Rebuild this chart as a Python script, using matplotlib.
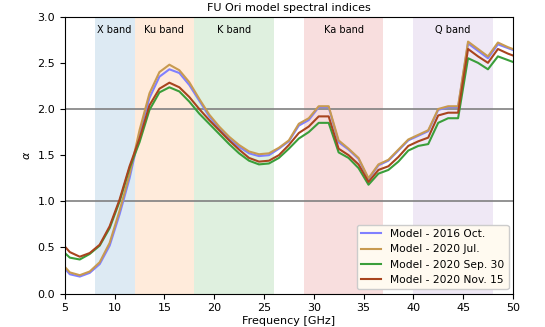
'''FU Ori model spectral indices vs frequency'''

import numpy as np
from matplotlib import pyplot as plt

freq = [5, 5.5, 6.5, 7.5, 8.5, 9.5, 10.5, 11.5, 12.5, 13.5, 14.5, 15.5,
        16.5, 17.5, 18.5, 19.5, 20.5, 21.5, 22.5, 23.5, 24.5, 25.5, 26.5,
        27.5, 28.5, 29.5, 30.5, 31.5, 32.5, 33.5, 34.5, 35.5, 36.5, 37.5,
        38.5, 39.5, 40.5, 41.5, 42.5, 43.5, 44.5, 45.5, 46.5, 47.5, 48.5,
        49.5, 50]

alpha_2016_oct = [0.27, 0.21, 0.185, 0.225, 0.32, 0.52, 0.86, 1.25, 1.73,
                  2.12, 2.35, 2.43, 2.39, 2.26, 2.09, 1.92, 1.79, 1.68, 1.59,
                  1.52, 1.49, 1.50, 1.57, 1.65, 1.82, 1.88, 2.02, 2.02, 1.64,
                  1.56, 1.46, 1.24, 1.39, 1.44, 1.55, 1.66, 1.71, 1.76, 1.99,
                  2.02, 2.02, 2.71, 2.63, 2.55, 2.70, 2.66, 2.64]

alpha_2020_jul = [0.29, 0.23, 0.20, 0.24, 0.34, 0.55, 0.90, 1.29, 1.77,
                  2.17, 2.40, 2.48, 2.42, 2.29, 2.11, 1.94, 1.81, 1.70, 1.61,
                  1.54, 1.51, 1.52, 1.58, 1.66, 1.84, 1.90, 2.03, 2.03, 1.66,
                  1.57, 1.47, 1.25, 1.40, 1.45, 1.56, 1.67, 1.72, 1.77, 2.00,
                  2.03, 2.03, 2.73, 2.65, 2.57, 2.72, 2.67, 2.65]

alpha_2020_sep30 = [0.44, 0.39, 0.37, 0.43, 0.52, 0.71, 1.00, 1.36, 1.64,
                    1.99, 2.18, 2.235, 2.19, 2.08, 1.95, 1.84, 1.73, 1.62,
                    1.52, 1.44, 1.40, 1.41, 1.47, 1.57, 1.68, 1.75, 1.85,
                    1.85, 1.53, 1.47, 1.36, 1.18, 1.30, 1.34, 1.43, 1.55,
                    1.60, 1.62, 1.85, 1.90, 1.90, 2.55, 2.50, 2.43, 2.57,
                    2.53, 2.51]

alpha_2020_nov15 = [0.51, 0.45, 0.40, 0.44, 0.53, 0.73, 1.02, 1.38, 1.68,
                    2.04, 2.22, 2.285, 2.235, 2.13, 2.00, 1.88, 1.77, 1.66,
                    1.56, 1.47, 1.43, 1.44, 1.50, 1.61, 1.74, 1.81, 1.92,
                    1.92, 1.57, 1.50, 1.40, 1.21, 1.34, 1.38, 1.48, 1.60,
                    1.65, 1.69, 1.93, 1.96, 1.96, 2.65, 2.57, 2.50, 2.65,
                    2.60, 2.58]

band_names = ["X band", "Ku band", "K band", "Ka band", "Q band"]
band_edges = [(8, 12), (12, 18), (18, 26), (29, 37), (40, 48)]
band_colors = ["tab:blue", "tab:orange", "tab:green", "tab:red", "tab:purple"]

fig = plt.figure(figsize=(5.45, 3.27), dpi=100)
ax = fig.add_axes([0.119, 0.102, 0.822, 0.847])

for name, (lo, hi), c in zip(band_names, band_edges, band_colors):
    ax.axvspan(lo, hi, color=c, alpha=0.15, lw=0)
    ax.text((lo + hi) / 2, 2.86, name, ha='center', va='center', fontsize=7)

ax.axhline(1.0, color='gray', lw=1.2)
ax.axhline(2.0, color='gray', lw=1.2)

ax.plot(freq, alpha_2016_oct, color='#8080ff', lw=1.5, label='Model - 2016 Oct.')
ax.plot(freq, alpha_2020_jul, color='#c89a50', lw=1.5, label='Model - 2020 Jul.')
ax.plot(freq, alpha_2020_sep30, color='#3a9e3a', lw=1.5,
        label='Model - 2020 Sep. 30')
ax.plot(freq, alpha_2020_nov15, color='#a8441e', lw=1.5,
        label='Model - 2020 Nov. 15')

ax.set_xlim(5, 50)
ax.set_ylim(0, 3.0)
ax.set_xticks(np.arange(5, 51, 5))
ax.set_yticks(np.arange(0, 3.01, 0.5))
ax.tick_params(labelsize=8)
ax.set_xlabel("Frequency [GHz]", fontsize=8, labelpad=2)
ax.set_ylabel(r"$\alpha$", fontsize=8)
ax.set_title("FU Ori model spectral indices", fontsize=8, pad=4)
ax.legend(loc='lower right', fontsize=7.7, facecolor='#fffaf0', framealpha=1,
          handlelength=1.9, borderaxespad=0.4)

fig.savefig("out.png", dpi=100)
